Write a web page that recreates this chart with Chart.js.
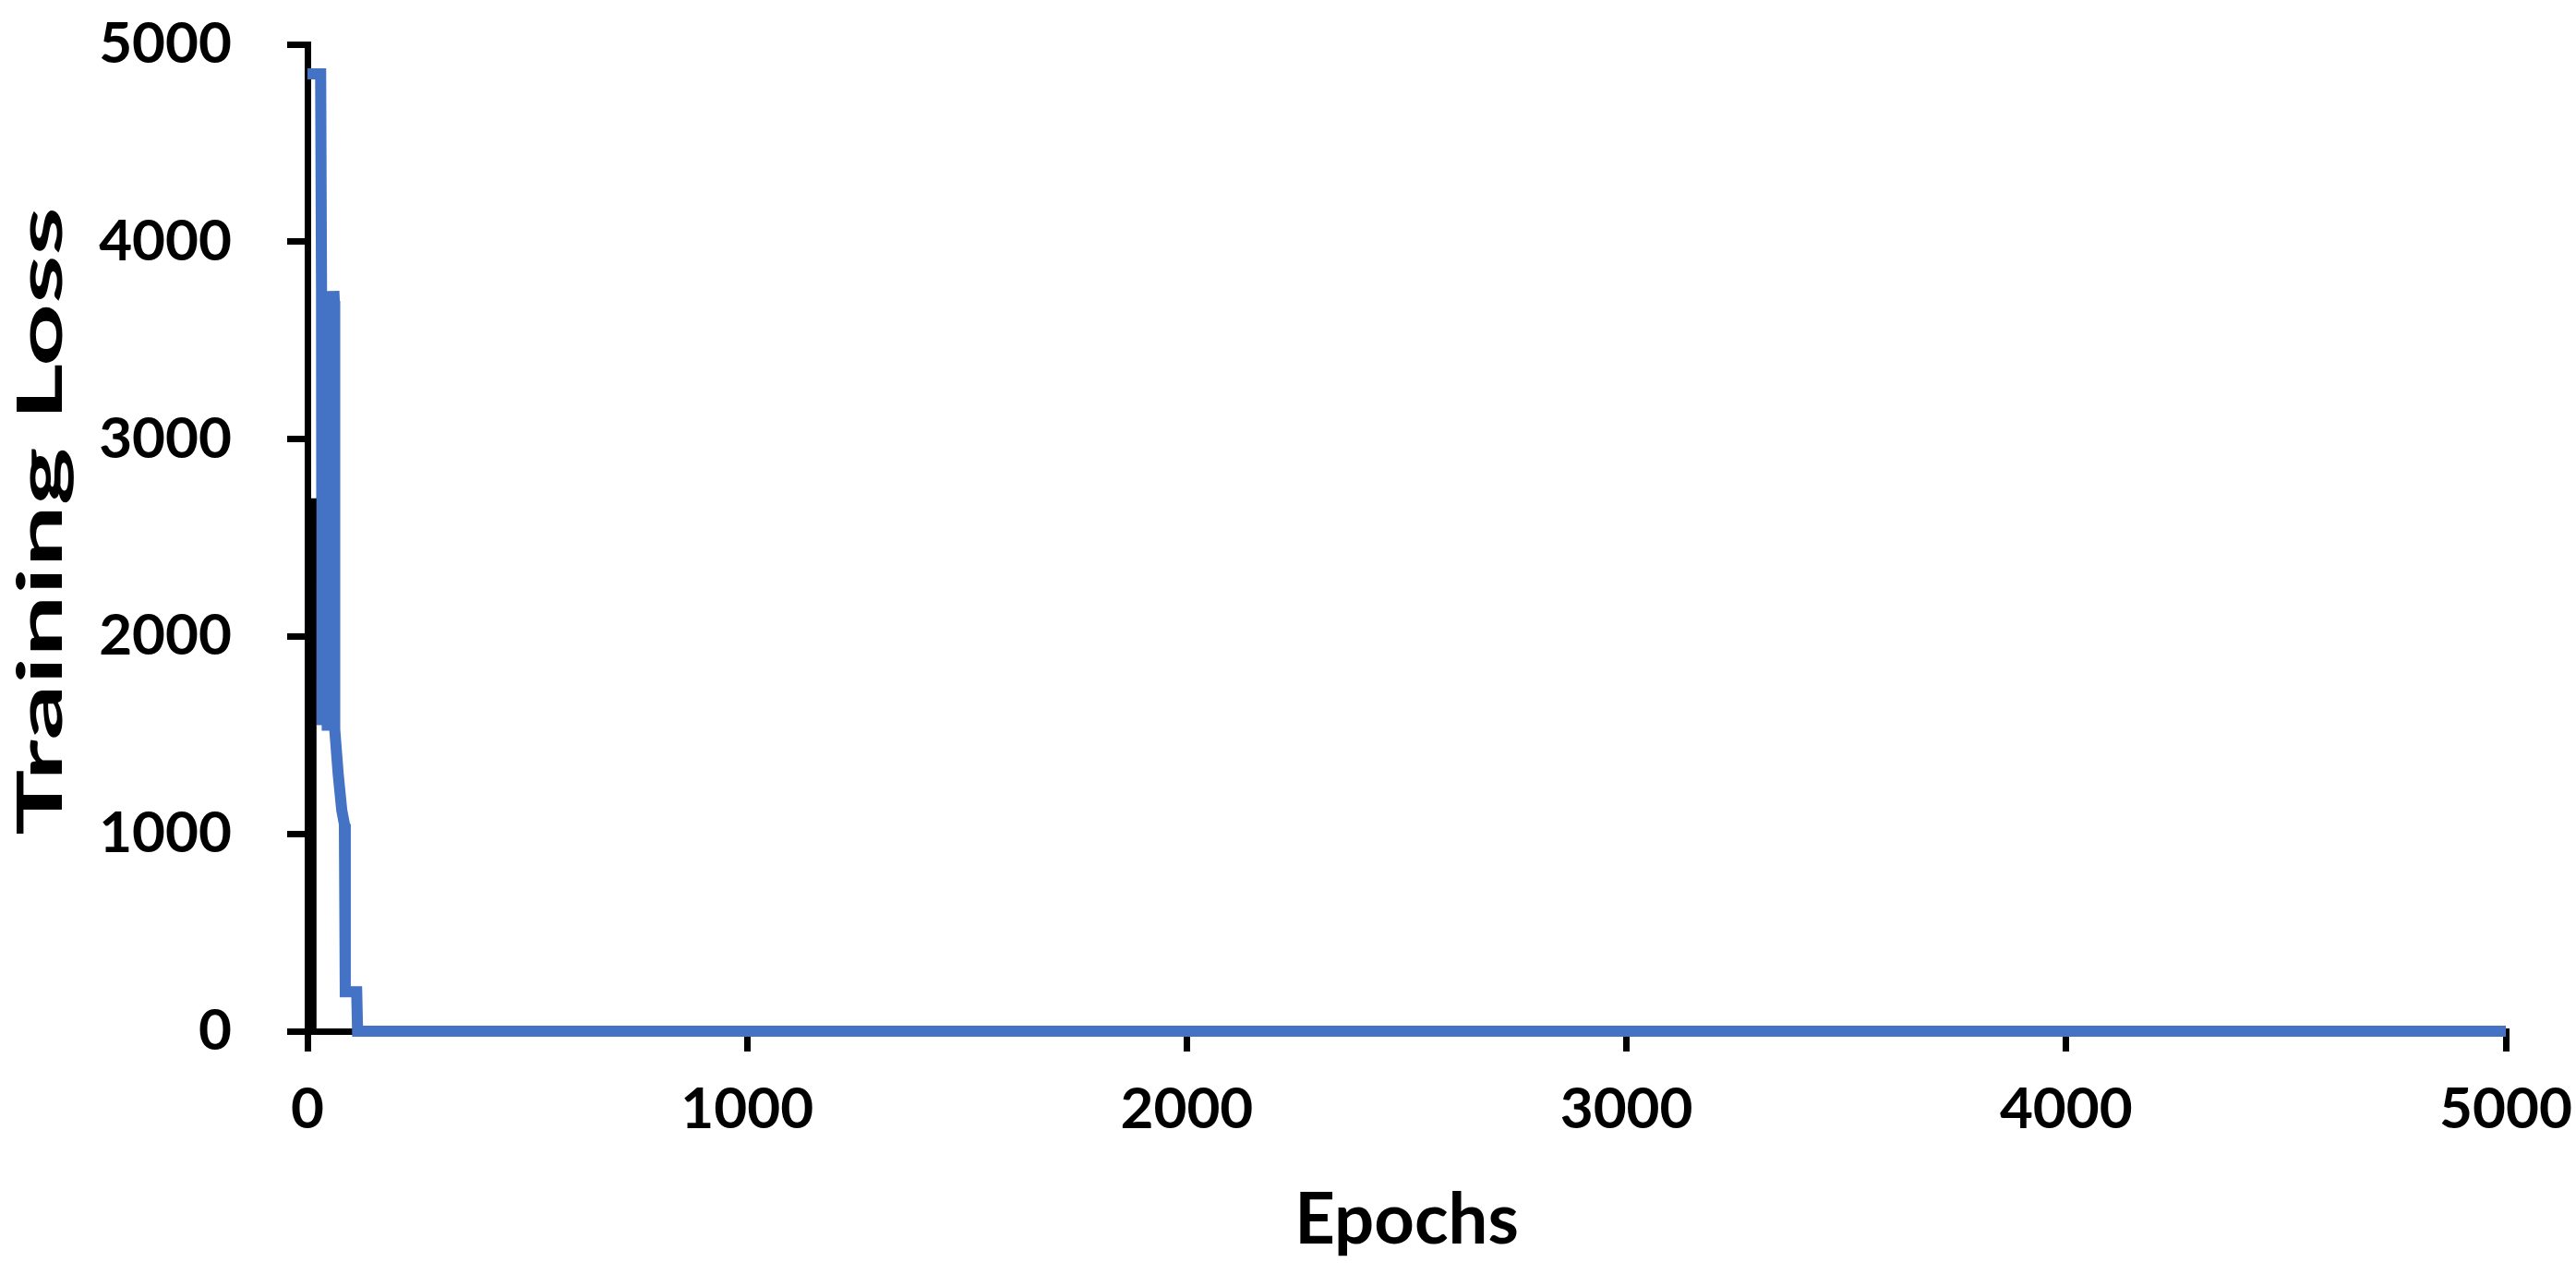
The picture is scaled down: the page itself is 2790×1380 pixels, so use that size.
<!DOCTYPE html>
<html lang="en">
<head>
    <meta charset="UTF-8">
    <title>Training Loss</title>
    <script src="https://cdn.jsdelivr.net/npm/chart.js"></script>
    <style>
        body { margin: 0; background: #fff; }
    </style>
</head>
<body>
    <canvas id="lossChart" width="2790" height="1380"></canvas>

<script>
    // epochs and loss
    var epochs = [0, 30, 32, 33, 34, 35, 36, 37, 38, 39, 40, 41, 42, 43, 44, 45, 46, 47, 48, 49, 50, 51, 52, 53, 54, 55, 56, 57, 58, 59, 60, 61, 62, 70, 78, 84, 86, 88, 112, 114, 500, 1000, 2000, 3000, 4000, 5000];
    var loss = [4850, 4850, 3750, 1550, 3750, 1550, 3750, 1550, 3750, 1550, 3750, 1550, 3750, 1550, 3750, 1550, 3750, 1550, 3750, 1550, 3750, 1550, 3750, 1550, 3750, 1550, 3750, 1550, 3750, 1550, 3750, 3700, 1530, 1300, 1120, 1050, 200, 200, 200, 0, 0, 0, 0, 0, 0, 0];

    // dark bar sitting on the y axis near epoch 0
    var darkEpochs = [8, 8];
    var darkLoss = [2700, 0];

    var xTicks = [0, 1000, 2000, 3000, 4000, 5000];
    var yTicks = [0, 1000, 2000, 3000, 4000, 5000];

    var font = 'Lato, "Open Sans", sans-serif';

    // the y title in the picture is drawn taller than the other text
    function stretchTitle(s, k, shift) {
        if (s._stretched) return;
        s._stretched = true;
        var orig = s.drawTitle.bind(s);
        s.drawTitle = function () {
            var c = this.ctx;
            var cy = (this.top + this.bottom) / 2;
            c.save();
            c.translate(0, cy + shift);
            c.scale(1, k);
            c.translate(0, -cy);
            orig();
            c.restore();
        };
    }

    var ctx = document.getElementById('lossChart').getContext('2d');
    new Chart(ctx, {
        type: 'line',
        data: {
            datasets: [{
                data: darkEpochs.map((e, i) => ({ x: e, y: darkLoss[i] })),
                borderColor: '#000000',
                borderWidth: 12,
                pointRadius: 0,
                clip: false,
                order: 0
            }, {
                data: epochs.map((e, i) => ({ x: e, y: loss[i] })),
                borderColor: '#4472C4',
                borderWidth: 12,
                pointRadius: 0,
                tension: 0,
                clip: false,
                order: 1
            }]
        },
        options: {
            responsive: false,
            animation: false,
            layout: { padding: { top: 48, right: 76, bottom: 8, left: 0 } },
            plugins: { legend: { display: false }, tooltip: { enabled: false } },
            scales: {
                x: {
                    type: 'linear',
                    min: 0,
                    max: 5000,
                    afterBuildTicks: s => { s.ticks = xTicks.map(v => ({ value: v })); },
                    afterFit: s => { s.height = 255; s.paddingLeft = 0; s.paddingRight = 0; },
                    grid: { drawOnChartArea: false, color: '#000', lineWidth: 7, tickLength: 22 },
                    border: { color: '#000', width: 7 },
                    ticks: { color: '#000', padding: 26, maxRotation: 0, callback: v => String(v), font: { family: font, size: 62, weight: 'bold' } },
                    title: { display: true, text: 'Epochs', color: '#000', padding: { top: 0, bottom: 4 }, font: { family: font, size: 76, weight: 'bold' } }
                },
                y: {
                    min: 0,
                    max: 5000,
                    afterBuildTicks: s => { s.ticks = yTicks.map(v => ({ value: v })); },
                    afterFit: s => { s.width = 333; s.paddingTop = 0; s.paddingBottom = 0; stretchTitle(s, 1.8, -18); },
                    grid: { drawOnChartArea: false, color: '#000', lineWidth: 7, tickLength: 22 },
                    border: { color: '#000', width: 7 },
                    ticks: { color: '#000', padding: 60, callback: v => String(v), font: { family: font, size: 62, weight: 'bold' } },
                    title: { display: true, text: 'Training Loss', color: '#000', padding: { top: 6, bottom: 0 }, font: { family: font, size: 66, weight: 'bold' } }
                }
            }
        }
    });
</script>
</body>
</html>
